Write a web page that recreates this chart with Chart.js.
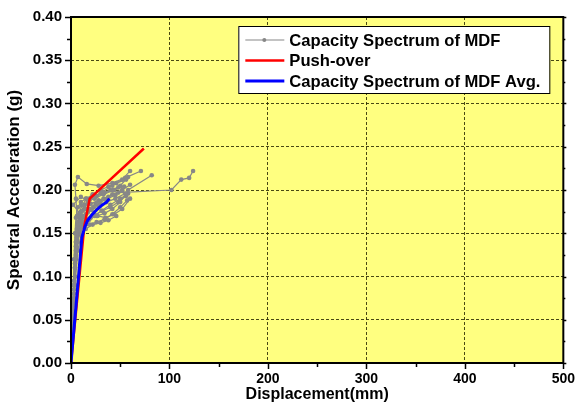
<!DOCTYPE html>
<html>
<head>
<meta charset="utf-8">
<script src="https://cdn.jsdelivr.net/npm/chart.js@4.4.1/dist/chart.umd.min.js"></script>
<style>
  html, body { margin: 0; padding: 0; background: #fff; }
  #wrap { width: 577px; height: 410px; }
</style>
</head>
<body>
<div id="wrap"><canvas id="cs"></canvas></div>
<script>
// capacity spectrum records of MDF, [displacement mm, acceleration g]
const mdf01 = [[0,0],[2,0.05],[4,0.11],[6,0.145],[8,0.16],[12,0.17],[18,0.178],[25,0.184],[33,0.19],[42,0.195],[52,0.2],[60,0.206]];
const mdf02 = [[0,0],[3,0.07],[5,0.125],[7,0.152],[10,0.165],[15,0.172],[21,0.177],[28,0.182],[36,0.186],[45,0.19],[55,0.196]];
const mdf03 = [[0,0],[3,0.08],[5,0.13],[7,0.158],[9,0.17],[14,0.178],[20,0.184],[28,0.188],[38,0.192],[48,0.197],[102,0.2],[112,0.212],[120,0.214],[124,0.222]];
const mdf04 = [[0,0],[4,0.1],[6,0.14],[8,0.162],[12,0.176],[17,0.185],[24,0.192],[32,0.198],[42,0.205],[52,0.212],[60,0.222]];
const mdf05 = [[0,0],[2,0.06],[4,0.12],[5,0.15],[6,0.17],[5,0.19],[4,0.206],[7,0.215],[16,0.207],[28,0.205],[42,0.208],[55,0.214],[71,0.222]];
const mdf06 = [[0,0],[3,0.09],[5,0.14],[8,0.158],[13,0.163],[19,0.167],[26,0.17],[34,0.173],[42,0.178],[50,0.186],[58,0.2],[82,0.217]];
const mdf07 = [[0,0],[4,0.1],[6,0.14],[9,0.155],[13,0.16],[18,0.165],[24,0.17],[31,0.176],[40,0.183],[50,0.19],[58,0.196]];
const mdf08 = [[0,0],[3,0.09],[5,0.135],[7,0.16],[9,0.173],[2,0.183],[10,0.192],[17,0.188],[24,0.19],[33,0.195],[44,0.2],[54,0.204]];
const mdf09 = [[0,0],[4,0.11],[6,0.14],[9,0.152],[13,0.157],[19,0.16],[26,0.163],[34,0.166],[42,0.172],[50,0.18],[57,0.188]];
const mdf10 = [[0,0],[3,0.085],[6,0.145],[10,0.16],[16,0.166],[24,0.171],[32,0.176],[40,0.18],[48,0.186],[56,0.193]];
const mdf11 = [[0,0],[2,0.055],[4,0.115],[6,0.155],[8,0.172],[11,0.182],[16,0.19],[22,0.195],[30,0.2],[38,0.204],[46,0.208],[56,0.212]];
const mdf12 = [[0,0],[5,0.12],[8,0.15],[11,0.16],[15,0.165],[20,0.168],[27,0.17],[35,0.168],[44,0.172],[52,0.178],[60,0.19]];
const mdf13 = [[0,0],[3,0.095],[5,0.14],[7,0.163],[10,0.175],[14,0.183],[19,0.189],[26,0.193],[34,0.197],[43,0.2],[50,0.205],[58,0.215]];
const mdf14 = [[0,0],[4,0.09],[7,0.13],[10,0.148],[15,0.155],[22,0.16],[30,0.162],[38,0.165],[46,0.17]];
const mdf15 = [[0,0],[2,0.07],[3,0.12],[4,0.15],[5,0.168],[7,0.18],[10,0.186],[15,0.19],[22,0.193],[30,0.196],[40,0.2],[48,0.203]];
const mdf16 = [[0,0],[3,0.075],[6,0.13],[9,0.158],[12,0.168],[17,0.174],[23,0.18],[30,0.186],[37,0.19],[45,0.194],[52,0.199]];

const pushOver = [[0,0],[13.5,0.158],[19,0.19],[74,0.248]];
const mdfAvg = [[0,0],[5,0.065],[11,0.145],[14,0.157],[17,0.165],[21,0.171],[26,0.177],[31,0.182],[36,0.186],[39,0.19]];

const mdfRecords = [mdf01, mdf02, mdf03, mdf04, mdf05, mdf06, mdf07, mdf08, mdf09, mdf10, mdf11, mdf12, mdf13, mdf14, mdf15, mdf16];
const legendLabels = ['Capacity Spectrum of MDF', 'Push-over', 'Capacity Spectrum of MDF Avg.'];

const FONT = "'Liberation Sans', Arial, sans-serif";
const GREY = '#878787';

function toPoints(arr) {
    return arr.map(p => ({ x: p[0], y: p[1] }));
}

const datasets = mdfRecords.map(r => ({
    data: toPoints(r),
    showLine: true,
    borderColor: GREY,
    borderWidth: 1.2,
    pointRadius: 2.3,
    pointBackgroundColor: GREY,
    pointBorderWidth: 0,
    order: 3
}));
datasets.push({
    data: toPoints(pushOver),
    showLine: true,
    borderColor: '#ff0000',
    borderWidth: 2.5,
    pointRadius: 0,
    order: 2
});
datasets.push({
    data: toPoints(mdfAvg),
    showLine: true,
    borderColor: '#0000ff',
    borderWidth: 3,
    pointRadius: 0,
    order: 1
});

// yellow plot background
const plotBg = {
    id: 'plotBg',
    beforeDraw(chart) {
        const { ctx, chartArea: a } = chart;
        ctx.save();
        ctx.fillStyle = '#ffff80';
        ctx.fillRect(a.left, a.top, a.right - a.left, a.bottom - a.top);
        ctx.restore();
    }
};

// frame, major/minor ticks and legend
const frameAndLegend = {
    id: 'frameAndLegend',
    afterDraw(chart) {
        const { ctx, chartArea: a } = chart;
        const xs = chart.scales.x, ys = chart.scales.y;
        ctx.save();
        ctx.strokeStyle = '#000';
        ctx.lineWidth = 2;
        ctx.setLineDash([]);
        ctx.strokeRect(a.left, a.top, a.right - a.left, a.bottom - a.top);

        ctx.lineWidth = 1.5;
        ctx.beginPath();
        for (let v = 0; v <= 500; v += 50) {
            const px = Math.round(xs.getPixelForValue(v)) + 0.5;
            const len = v % 100 === 0 ? 6 : 4;
            ctx.moveTo(px, a.bottom);
            ctx.lineTo(px, a.bottom + len);
        }
        for (let i = 0; i <= 16; i++) {
            const v = i * 0.025;
            const py = Math.round(ys.getPixelForValue(v)) + 0.5;
            const len = i % 2 === 0 ? 6 : 4;
            ctx.moveTo(a.left, py);
            ctx.lineTo(a.left - len, py);
            ctx.moveTo(a.right, py);
            ctx.lineTo(a.right + (i % 2 === 0 ? 3 : 2), py);
        }
        ctx.stroke();

        // legend
        const bx = a.right - 325, by = a.top + 9, bw = 311, bh = 67;
        ctx.fillStyle = '#fff';
        ctx.fillRect(bx, by, bw, bh);
        ctx.lineWidth = 1;
        ctx.strokeStyle = '#000';
        ctx.strokeRect(bx + 0.5, by + 0.5, bw, bh);

        const colors = [GREY, '#ff0000', '#0000ff'];
        const widths = [1.2, 2.5, 3];
        ctx.font = 'bold 16.6px ' + FONT;
        ctx.textBaseline = 'middle';
        legendLabels.forEach((lab, i) => {
            const ly = by + 14 + i * 20.5;
            ctx.strokeStyle = colors[i];
            ctx.lineWidth = widths[i];
            ctx.beginPath();
            ctx.moveTo(bx + 7, ly);
            ctx.lineTo(bx + 46, ly);
            ctx.stroke();
            if (i === 0) {
                ctx.fillStyle = GREY;
                ctx.beginPath();
                ctx.arc(bx + 26, ly, 2, 0, Math.PI * 2);
                ctx.fill();
            }
            ctx.fillStyle = '#000';
            ctx.fillText(lab, bx + 51, ly + 1);
        });
        ctx.restore();
    }
};

const gridColor = 'rgba(40,40,0,0.85)';

new Chart(document.getElementById('cs').getContext('2d'), {
    type: 'scatter',
    data: { datasets: datasets },
    options: {
        responsive: true,
        maintainAspectRatio: false,
        animation: false,
        layout: { padding: { top: 17, right: 12, left: 0, bottom: 0 } },
        plugins: {
            legend: { display: false },
            tooltip: { enabled: false }
        },
        scales: {
            x: {
                type: 'linear',
                min: 0,
                max: 500,
                afterFit(scale) { scale.height = 47; },
                ticks: {
                    stepSize: 100,
                    padding: 2,
                    color: '#000',
                    font: { family: FONT, size: 14, weight: 'bold' },
                    maxRotation: 0
                },
                grid: {
                    color: c => (c.tick && c.tick.value > 0 && c.tick.value < 500) ? gridColor : 'rgba(0,0,0,0)',
                    lineWidth: 1,
                    tickLength: 6,
                    tickColor: 'rgba(0,0,0,0)'
                },
                border: { display: false, dash: [3, 2] },
                title: {
                    display: true,
                    text: 'Displacement(mm)',
                    color: '#000',
                    font: { family: FONT, size: 16, weight: 'bold' },
                    padding: { top: 0, bottom: 6 }
                }
            },
            y: {
                type: 'linear',
                min: 0,
                max: 0.4,
                afterFit(scale) { scale.width = 71; },
                ticks: {
                    stepSize: 0.05,
                    padding: 3,
                    color: '#000',
                    font: { family: FONT, size: 15, weight: 'bold' },
                    callback: v => v.toFixed(2)
                },
                grid: {
                    color: c => (c.tick && c.tick.value > 0.001 && c.tick.value < 0.399) ? gridColor : 'rgba(0,0,0,0)',
                    lineWidth: 1,
                    tickLength: 6,
                    tickColor: 'rgba(0,0,0,0)'
                },
                border: { display: false, dash: [3, 2] },
                title: {
                    display: true,
                    text: 'Spectral Acceleration (g)',
                    color: '#000',
                    font: { family: FONT, size: 17, weight: 'bold' },
                    padding: { top: 4, bottom: 0 }
                }
            }
        }
    },
    plugins: [plotBg, frameAndLegend]
});
</script>
</body>
</html>
